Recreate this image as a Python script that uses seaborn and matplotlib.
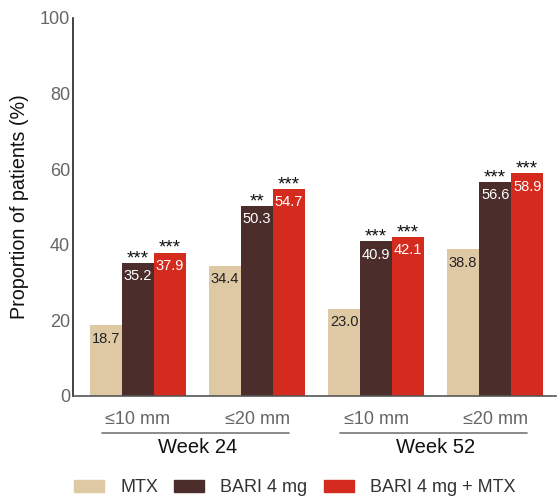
import matplotlib
matplotlib.use('Agg')
import matplotlib.pyplot as plt
import pandas as pd
import seaborn as sns

# ---------------------------------------------------------------------------
# Data
# ---------------------------------------------------------------------------
TREATMENTS = ['MTX', 'BARI 4 mg', 'BARI 4 mg + MTX']
GROUPS = ['w24_10', 'w24_20', 'w52_10', 'w52_20']
GROUP_LABELS = ['≤10 mm', '≤20 mm', '≤10 mm', '≤20 mm']
WEEKS = ['Week 24', 'Week 52']

MTX = [18.7, 34.4, 23.0, 38.8]
BARI = [35.2, 50.3, 40.9, 56.6]
BARI_MTX = [37.9, 54.7, 42.1, 58.9]

STARS_MTX = ['', '', '', '']
STARS_BARI = ['***', '**', '***', '***']
STARS_BARI_MTX = ['***', '***', '***', '***']

COLORS = ['#DFC9A5', '#4B2D2B', '#D52B1E']
LABEL_COLORS = ['#222222', 'white', 'white']

sns.set_style('white')
plt.rcParams['font.family'] = ['Liberation Sans', 'DejaVu Sans']

rows = []
for treat, vals in zip(TREATMENTS, [MTX, BARI, BARI_MTX]):
    for g, v in zip(GROUPS, vals):
        rows.append({'group': g, 'treatment': treat, 'value': v})
df = pd.DataFrame(rows)

fig = plt.figure(figsize=(5.57, 5.0), dpi=100)
ax = fig.add_axes([0.131, 0.208, 0.867, 0.756])

sns.barplot(data=df, x='group', y='value', hue='treatment', order=GROUPS,
            hue_order=TREATMENTS, palette=COLORS, width=0.807, gap=0,
            linewidth=0, saturation=1, ax=ax, legend=False)

# value labels inside bars + significance stars above
stars = [STARS_MTX, STARS_BARI, STARS_BARI_MTX]
for ci, container in enumerate(ax.containers):
    for bi, bar in enumerate(container):
        x = bar.get_x() + bar.get_width() / 2
        h = bar.get_height()
        ax.annotate(f'{h:.1f}', (x, h), xytext=(0, -4.5), textcoords='offset points',
                    ha='center', va='top', fontsize=10.5, color=LABEL_COLORS[ci])
        if stars[ci][bi]:
            ax.annotate(stars[ci][bi], (x, h), xytext=(0, -3),
                        textcoords='offset points', ha='center', va='bottom',
                        fontsize=13.5, color='#111111')

ax.set_ylim(0, 100)
ax.set_xlim(-0.546, 3.51)
ax.set_yticks(range(0, 101, 20))
ax.set_xticks(range(len(GROUPS)))
ax.set_xticklabels(GROUP_LABELS)
ax.tick_params(axis='y', length=0, pad=2, labelsize=13, labelcolor='#666666')
ax.tick_params(axis='x', length=0, pad=11, labelsize=13, labelcolor='#666666')
ax.set_xlabel('')
ax.set_ylabel('Proportion of patients (%)', fontsize=14.2, color='#111111', labelpad=8)

for side in ['top', 'right']:
    ax.spines[side].set_visible(False)
ax.spines['left'].set_color('#222222')
ax.spines['left'].set_linewidth(1.2)
ax.spines['bottom'].set_color('#555555')
ax.spines['bottom'].set_linewidth(1.2)

# week group brackets
for wi, week in enumerate(WEEKS):
    g0 = wi * 2
    ax.plot([g0 - 0.30, g0 + 1.27], [-0.098, -0.098],
            transform=ax.get_xaxis_transform(), color='#777777', lw=1.2,
            clip_on=False)
    ax.text(g0 + 0.5, -0.135, week, transform=ax.get_xaxis_transform(),
            ha='center', va='center', fontsize=14.5, color='#111111')

handles = [plt.Rectangle((0, 0), 1, 1, color=c) for c in COLORS]
fig.legend(handles, TREATMENTS, loc='center', bbox_to_anchor=(0.529, 0.024),
           ncol=3, frameon=False, fontsize=13, handlelength=1.66,
           handleheight=0.6, handletextpad=0.9, columnspacing=0.9,
           labelcolor='#333333')

fig.savefig('out.png', dpi=100)
plt.close(fig)
